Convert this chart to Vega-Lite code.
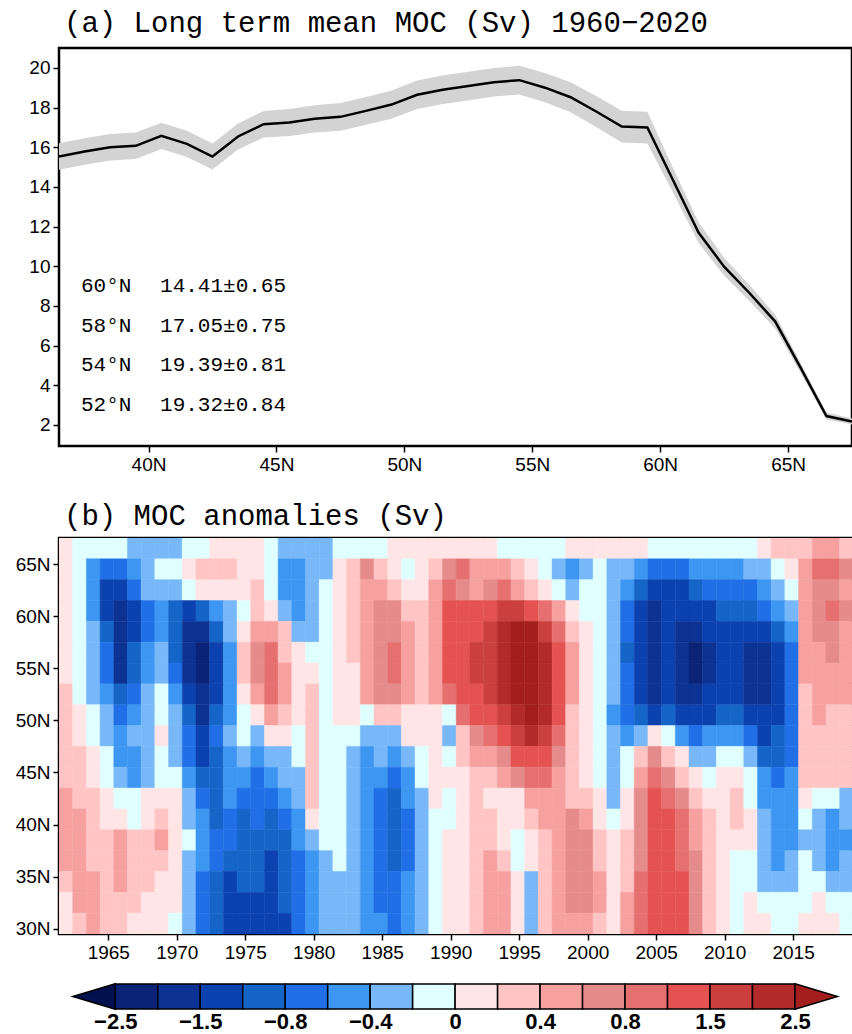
{
"$schema":"https://vega.github.io/schema/vega-lite/v6.json",
"background":"white",
"padding":{"left":13,"top":7,"right":0,"bottom":0},
"config":{
 "view":{"stroke":"black","strokeWidth":2.5},
 "axis":{"grid":false,"domain":false,"tickColor":"black","tickWidth":1.5,"tickSize":6,"labelColor":"black","labelFont":"Liberation Sans Narrow, Liberation Sans","labelFontSize":19,"labelPadding":3},
 "title":{"font":"Liberation Mono","fontSize":29,"fontWeight":"normal","color":"black","anchor":"start","frame":"group","dx":5,"offset":10},
 "concat":{"spacing":16}
},
"datasets":{
"moc":[
{"lat":36.5,"m":15.53,"lo":14.86,"hi":16.2},{"lat":37.5,"m":15.78,"lo":15.11,"hi":16.45},{"lat":38.5,"m":16.0,"lo":15.33,"hi":16.67},{"lat":39.5,"m":16.07,"lo":15.4,"hi":16.74},{"lat":40.5,"m":16.57,"lo":15.91,"hi":17.23},{"lat":41.5,"m":16.17,"lo":15.51,"hi":16.83},{"lat":42.5,"m":15.53,"lo":14.87,"hi":16.19},{"lat":43.5,"m":16.54,"lo":15.88,"hi":17.2},{"lat":44.5,"m":17.16,"lo":16.49,"hi":17.83},{"lat":45.5,"m":17.25,"lo":16.57,"hi":17.93},{"lat":46.5,"m":17.43,"lo":16.74,"hi":18.12},{"lat":47.5,"m":17.53,"lo":16.83,"hi":18.23},{"lat":48.5,"m":17.83,"lo":17.13,"hi":18.53},{"lat":49.5,"m":18.15,"lo":17.44,"hi":18.86},{"lat":50.5,"m":18.64,"lo":17.92,"hi":19.36},{"lat":51.5,"m":18.9,"lo":18.18,"hi":19.62},{"lat":52.5,"m":19.08,"lo":18.36,"hi":19.8},{"lat":53.5,"m":19.27,"lo":18.55,"hi":19.99},{"lat":54.5,"m":19.38,"lo":18.66,"hi":20.1},{"lat":55.5,"m":19.0,"lo":18.26,"hi":19.74},{"lat":56.5,"m":18.52,"lo":17.76,"hi":19.28},{"lat":57.5,"m":17.8,"lo":17.02,"hi":18.58},{"lat":58.5,"m":17.04,"lo":16.24,"hi":17.84},{"lat":59.5,"m":16.99,"lo":16.19,"hi":17.79},{"lat":60.5,"m":14.35,"lo":13.73,"hi":14.97},{"lat":61.5,"m":11.7,"lo":11.18,"hi":12.22},{"lat":62.5,"m":9.98,"lo":9.53,"hi":10.43},{"lat":63.5,"m":8.64,"lo":8.24,"hi":9.04},{"lat":64.5,"m":7.21,"lo":6.86,"hi":7.56},{"lat":65.5,"m":4.86,"lo":4.61,"hi":5.11},{"lat":66.5,"m":2.45,"lo":2.27,"hi":2.63},{"lat":67.5,"m":2.17,"lo":2.02,"hi":2.32}
],
"ann":[
{"x":37.36,"y":9,"s":"60°N"},{"x":40.45,"y":9,"s":"14.41±0.65"},
{"x":37.36,"y":7,"s":"58°N"},{"x":40.45,"y":7,"s":"17.05±0.75"},
{"x":37.36,"y":5,"s":"54°N"},{"x":40.45,"y":5,"s":"19.39±0.81"},
{"x":37.36,"y":3,"s":"52°N"},{"x":40.45,"y":3,"s":"19.32±0.84"}
],
"cbar":[
{"k":0,"v":-2.25},{"k":1,"v":-1.75},{"k":2,"v":-1.35},{"k":3,"v":-1},{"k":4,"v":-0.7},{"k":5,"v":-0.5},{"k":6,"v":-0.3},{"k":7,"v":-0.1},{"k":8,"v":0.1},{"k":9,"v":0.3},{"k":10,"v":0.5},{"k":11,"v":0.7},{"k":12,"v":1},{"k":13,"v":1.35},{"k":14,"v":1.75},{"k":15,"v":2.25}
],
"tri":[{"k":-0.5,"v":-2.75,"side":"L"},{"k":16.5,"v":2.75,"side":"R"}],
"anom":[
{"t":1962,"la":66.5,"v":0.1},{"t":1963,"la":66.5,"v":-0.1},{"t":1964,"la":66.5,"v":-0.1},{"t":1965,"la":66.5,"v":-0.1},{"t":1966,"la":66.5,"v":-0.1},{"t":1967,"la":66.5,"v":-0.3},{"t":1968,"la":66.5,"v":-0.3},{"t":1969,"la":66.5,"v":-0.3},{"t":1970,"la":66.5,"v":-0.3},{"t":1971,"la":66.5,"v":-0.1},{"t":1972,"la":66.5,"v":-0.1},{"t":1973,"la":66.5,"v":0.1},{"t":1974,"la":66.5,"v":0.1},{"t":1975,"la":66.5,"v":0.1},{"t":1976,"la":66.5,"v":0.1},{"t":1977,"la":66.5,"v":-0.1},{"t":1978,"la":66.5,"v":-0.3},{"t":1979,"la":66.5,"v":-0.3},{"t":1980,"la":66.5,"v":-0.3},{"t":1981,"la":66.5,"v":-0.3},{"t":1982,"la":66.5,"v":-0.1},{"t":1983,"la":66.5,"v":-0.1},{"t":1984,"la":66.5,"v":-0.1},{"t":1985,"la":66.5,"v":-0.1},{"t":1986,"la":66.5,"v":0.1},{"t":1987,"la":66.5,"v":0.1},{"t":1988,"la":66.5,"v":0.1},{"t":1989,"la":66.5,"v":0.1},{"t":1990,"la":66.5,"v":0.1},{"t":1991,"la":66.5,"v":0.1},{"t":1992,"la":66.5,"v":0.1},{"t":1993,"la":66.5,"v":0.1},{"t":1994,"la":66.5,"v":-0.1},{"t":1995,"la":66.5,"v":-0.1},{"t":1996,"la":66.5,"v":-0.1},{"t":1997,"la":66.5,"v":-0.1},{"t":1998,"la":66.5,"v":-0.1},{"t":1999,"la":66.5,"v":0.1},{"t":2000,"la":66.5,"v":0.1},{"t":2001,"la":66.5,"v":0.1},{"t":2002,"la":66.5,"v":0.1},{"t":2003,"la":66.5,"v":0.1},{"t":2004,"la":66.5,"v":0.1},{"t":2005,"la":66.5,"v":-0.1},{"t":2006,"la":66.5,"v":-0.1},{"t":2007,"la":66.5,"v":-0.1},{"t":2008,"la":66.5,"v":-0.1},{"t":2009,"la":66.5,"v":-0.1},{"t":2010,"la":66.5,"v":-0.1},{"t":2011,"la":66.5,"v":-0.1},{"t":2012,"la":66.5,"v":-0.1},{"t":2013,"la":66.5,"v":0.1},{"t":2014,"la":66.5,"v":0.3},{"t":2015,"la":66.5,"v":0.3},{"t":2016,"la":66.5,"v":0.3},{"t":2017,"la":66.5,"v":0.5},{"t":2018,"la":66.5,"v":0.5},{"t":2019,"la":66.5,"v":0.3},
{"t":1962,"la":64.5,"v":0.1},{"t":1963,"la":64.5,"v":-0.1},{"t":1964,"la":64.5,"v":-0.5},{"t":1965,"la":64.5,"v":-0.7},{"t":1966,"la":64.5,"v":-0.7},{"t":1967,"la":64.5,"v":-0.5},{"t":1968,"la":64.5,"v":-0.3},{"t":1969,"la":64.5,"v":-0.1},{"t":1970,"la":64.5,"v":-0.1},{"t":1971,"la":64.5,"v":0.1},{"t":1972,"la":64.5,"v":0.3},{"t":1973,"la":64.5,"v":0.3},{"t":1974,"la":64.5,"v":0.3},{"t":1975,"la":64.5,"v":0.1},{"t":1976,"la":64.5,"v":0.1},{"t":1977,"la":64.5,"v":-0.1},{"t":1978,"la":64.5,"v":-0.5},{"t":1979,"la":64.5,"v":-0.5},{"t":1980,"la":64.5,"v":-0.3},{"t":1981,"la":64.5,"v":-0.3},{"t":1982,"la":64.5,"v":0.1},{"t":1983,"la":64.5,"v":0.3},{"t":1984,"la":64.5,"v":0.7},{"t":1985,"la":64.5,"v":0.3},{"t":1986,"la":64.5,"v":0.1},{"t":1987,"la":64.5,"v":-0.1},{"t":1988,"la":64.5,"v":0.1},{"t":1989,"la":64.5,"v":0.3},{"t":1990,"la":64.5,"v":0.7},{"t":1991,"la":64.5,"v":1},{"t":1992,"la":64.5,"v":0.5},{"t":1993,"la":64.5,"v":0.5},{"t":1994,"la":64.5,"v":0.5},{"t":1995,"la":64.5,"v":0.3},{"t":1996,"la":64.5,"v":0.1},{"t":1997,"la":64.5,"v":-0.1},{"t":1998,"la":64.5,"v":-0.3},{"t":1999,"la":64.5,"v":-0.5},{"t":2000,"la":64.5,"v":-0.3},{"t":2001,"la":64.5,"v":-0.1},{"t":2002,"la":64.5,"v":-0.3},{"t":2003,"la":64.5,"v":-0.3},{"t":2004,"la":64.5,"v":-0.5},{"t":2005,"la":64.5,"v":-0.7},{"t":2006,"la":64.5,"v":-0.7},{"t":2007,"la":64.5,"v":-0.7},{"t":2008,"la":64.5,"v":-0.5},{"t":2009,"la":64.5,"v":-0.5},{"t":2010,"la":64.5,"v":-0.5},{"t":2011,"la":64.5,"v":-0.5},{"t":2012,"la":64.5,"v":-0.3},{"t":2013,"la":64.5,"v":-0.3},{"t":2014,"la":64.5,"v":-0.1},{"t":2015,"la":64.5,"v":0.1},{"t":2016,"la":64.5,"v":0.5},{"t":2017,"la":64.5,"v":1},{"t":2018,"la":64.5,"v":1},{"t":2019,"la":64.5,"v":0.7},
{"t":1962,"la":62.5,"v":0.1},{"t":1963,"la":62.5,"v":-0.1},{"t":1964,"la":62.5,"v":-0.5},{"t":1965,"la":62.5,"v":-1.35},{"t":1966,"la":62.5,"v":-1.35},{"t":1967,"la":62.5,"v":-0.7},{"t":1968,"la":62.5,"v":-0.3},{"t":1969,"la":62.5,"v":-0.3},{"t":1970,"la":62.5,"v":-0.3},{"t":1971,"la":62.5,"v":-0.1},{"t":1972,"la":62.5,"v":0.1},{"t":1973,"la":62.5,"v":0.1},{"t":1974,"la":62.5,"v":0.1},{"t":1975,"la":62.5,"v":0.1},{"t":1976,"la":62.5,"v":0.3},{"t":1977,"la":62.5,"v":-0.1},{"t":1978,"la":62.5,"v":-0.5},{"t":1979,"la":62.5,"v":-0.5},{"t":1980,"la":62.5,"v":-0.3},{"t":1981,"la":62.5,"v":-0.1},{"t":1982,"la":62.5,"v":0.1},{"t":1983,"la":62.5,"v":0.3},{"t":1984,"la":62.5,"v":0.5},{"t":1985,"la":62.5,"v":0.5},{"t":1986,"la":62.5,"v":0.3},{"t":1987,"la":62.5,"v":0.1},{"t":1988,"la":62.5,"v":0.1},{"t":1989,"la":62.5,"v":0.5},{"t":1990,"la":62.5,"v":1},{"t":1991,"la":62.5,"v":0.7},{"t":1992,"la":62.5,"v":0.5},{"t":1993,"la":62.5,"v":0.7},{"t":1994,"la":62.5,"v":1},{"t":1995,"la":62.5,"v":0.5},{"t":1996,"la":62.5,"v":0.3},{"t":1997,"la":62.5,"v":0.1},{"t":1998,"la":62.5,"v":-0.1},{"t":1999,"la":62.5,"v":-0.3},{"t":2000,"la":62.5,"v":-0.1},{"t":2001,"la":62.5,"v":-0.1},{"t":2002,"la":62.5,"v":-0.3},{"t":2003,"la":62.5,"v":-0.5},{"t":2004,"la":62.5,"v":-1},{"t":2005,"la":62.5,"v":-1.35},{"t":2006,"la":62.5,"v":-1.35},{"t":2007,"la":62.5,"v":-1.35},{"t":2008,"la":62.5,"v":-1},{"t":2009,"la":62.5,"v":-0.7},{"t":2010,"la":62.5,"v":-0.7},{"t":2011,"la":62.5,"v":-0.7},{"t":2012,"la":62.5,"v":-0.7},{"t":2013,"la":62.5,"v":-0.5},{"t":2014,"la":62.5,"v":-0.3},{"t":2015,"la":62.5,"v":-0.1},{"t":2016,"la":62.5,"v":0.5},{"t":2017,"la":62.5,"v":0.7},{"t":2018,"la":62.5,"v":0.7},{"t":2019,"la":62.5,"v":0.5},
{"t":1962,"la":60.5,"v":0.1},{"t":1963,"la":60.5,"v":-0.1},{"t":1964,"la":60.5,"v":-0.5},{"t":1965,"la":60.5,"v":-1.35},{"t":1966,"la":60.5,"v":-1.75},{"t":1967,"la":60.5,"v":-1.35},{"t":1968,"la":60.5,"v":-0.7},{"t":1969,"la":60.5,"v":-0.5},{"t":1970,"la":60.5,"v":-1},{"t":1971,"la":60.5,"v":-1.35},{"t":1972,"la":60.5,"v":-1},{"t":1973,"la":60.5,"v":-0.5},{"t":1974,"la":60.5,"v":-0.3},{"t":1975,"la":60.5,"v":-0.1},{"t":1976,"la":60.5,"v":0.3},{"t":1977,"la":60.5,"v":0.1},{"t":1978,"la":60.5,"v":-0.3},{"t":1979,"la":60.5,"v":-0.5},{"t":1980,"la":60.5,"v":-0.3},{"t":1981,"la":60.5,"v":-0.1},{"t":1982,"la":60.5,"v":0.1},{"t":1983,"la":60.5,"v":0.3},{"t":1984,"la":60.5,"v":0.5},{"t":1985,"la":60.5,"v":0.7},{"t":1986,"la":60.5,"v":0.7},{"t":1987,"la":60.5,"v":0.3},{"t":1988,"la":60.5,"v":0.3},{"t":1989,"la":60.5,"v":0.5},{"t":1990,"la":60.5,"v":1.35},{"t":1991,"la":60.5,"v":1.35},{"t":1992,"la":60.5,"v":1.35},{"t":1993,"la":60.5,"v":1.35},{"t":1994,"la":60.5,"v":1.75},{"t":1995,"la":60.5,"v":1.75},{"t":1996,"la":60.5,"v":1.35},{"t":1997,"la":60.5,"v":1},{"t":1998,"la":60.5,"v":0.5},{"t":1999,"la":60.5,"v":0.1},{"t":2000,"la":60.5,"v":-0.1},{"t":2001,"la":60.5,"v":-0.1},{"t":2002,"la":60.5,"v":-0.3},{"t":2003,"la":60.5,"v":-0.7},{"t":2004,"la":60.5,"v":-1.35},{"t":2005,"la":60.5,"v":-1.75},{"t":2006,"la":60.5,"v":-1.35},{"t":2007,"la":60.5,"v":-1.35},{"t":2008,"la":60.5,"v":-1.35},{"t":2009,"la":60.5,"v":-1.35},{"t":2010,"la":60.5,"v":-1},{"t":2011,"la":60.5,"v":-1},{"t":2012,"la":60.5,"v":-1},{"t":2013,"la":60.5,"v":-0.7},{"t":2014,"la":60.5,"v":-0.5},{"t":2015,"la":60.5,"v":-0.3},{"t":2016,"la":60.5,"v":0.5},{"t":2017,"la":60.5,"v":0.7},{"t":2018,"la":60.5,"v":1},{"t":2019,"la":60.5,"v":0.7},
{"t":1962,"la":58.5,"v":0.1},{"t":1963,"la":58.5,"v":-0.1},{"t":1964,"la":58.5,"v":-0.3},{"t":1965,"la":58.5,"v":-1},{"t":1966,"la":58.5,"v":-1.75},{"t":1967,"la":58.5,"v":-1.35},{"t":1968,"la":58.5,"v":-0.7},{"t":1969,"la":58.5,"v":-0.5},{"t":1970,"la":58.5,"v":-1},{"t":1971,"la":58.5,"v":-1.75},{"t":1972,"la":58.5,"v":-1.75},{"t":1973,"la":58.5,"v":-1},{"t":1974,"la":58.5,"v":-0.3},{"t":1975,"la":58.5,"v":0.1},{"t":1976,"la":58.5,"v":0.5},{"t":1977,"la":58.5,"v":0.5},{"t":1978,"la":58.5,"v":0.3},{"t":1979,"la":58.5,"v":-0.3},{"t":1980,"la":58.5,"v":-0.3},{"t":1981,"la":58.5,"v":-0.1},{"t":1982,"la":58.5,"v":0.1},{"t":1983,"la":58.5,"v":0.3},{"t":1984,"la":58.5,"v":0.5},{"t":1985,"la":58.5,"v":0.7},{"t":1986,"la":58.5,"v":0.7},{"t":1987,"la":58.5,"v":0.5},{"t":1988,"la":58.5,"v":0.3},{"t":1989,"la":58.5,"v":0.5},{"t":1990,"la":58.5,"v":1.35},{"t":1991,"la":58.5,"v":1.35},{"t":1992,"la":58.5,"v":1.35},{"t":1993,"la":58.5,"v":1.75},{"t":1994,"la":58.5,"v":2.25},{"t":1995,"la":58.5,"v":2.75},{"t":1996,"la":58.5,"v":2.75},{"t":1997,"la":58.5,"v":1.75},{"t":1998,"la":58.5,"v":1},{"t":1999,"la":58.5,"v":0.3},{"t":2000,"la":58.5,"v":0.1},{"t":2001,"la":58.5,"v":-0.1},{"t":2002,"la":58.5,"v":-0.3},{"t":2003,"la":58.5,"v":-0.7},{"t":2004,"la":58.5,"v":-1.35},{"t":2005,"la":58.5,"v":-1.75},{"t":2006,"la":58.5,"v":-1.35},{"t":2007,"la":58.5,"v":-1.75},{"t":2008,"la":58.5,"v":-1.75},{"t":2009,"la":58.5,"v":-1.35},{"t":2010,"la":58.5,"v":-1.35},{"t":2011,"la":58.5,"v":-1.35},{"t":2012,"la":58.5,"v":-1.35},{"t":2013,"la":58.5,"v":-1.35},{"t":2014,"la":58.5,"v":-1},{"t":2015,"la":58.5,"v":-0.5},{"t":2016,"la":58.5,"v":0.5},{"t":2017,"la":58.5,"v":0.7},{"t":2018,"la":58.5,"v":0.7},{"t":2019,"la":58.5,"v":0.5},
{"t":1962,"la":56.5,"v":0.1},{"t":1963,"la":56.5,"v":-0.1},{"t":1964,"la":56.5,"v":-0.3},{"t":1965,"la":56.5,"v":-0.7},{"t":1966,"la":56.5,"v":-1.75},{"t":1967,"la":56.5,"v":-1},{"t":1968,"la":56.5,"v":-0.5},{"t":1969,"la":56.5,"v":-0.3},{"t":1970,"la":56.5,"v":-1},{"t":1971,"la":56.5,"v":-1.75},{"t":1972,"la":56.5,"v":-2.25},{"t":1973,"la":56.5,"v":-1.35},{"t":1974,"la":56.5,"v":-0.5},{"t":1975,"la":56.5,"v":0.3},{"t":1976,"la":56.5,"v":0.7},{"t":1977,"la":56.5,"v":1},{"t":1978,"la":56.5,"v":0.3},{"t":1979,"la":56.5,"v":0.1},{"t":1980,"la":56.5,"v":-0.1},{"t":1981,"la":56.5,"v":-0.1},{"t":1982,"la":56.5,"v":0.1},{"t":1983,"la":56.5,"v":0.3},{"t":1984,"la":56.5,"v":0.5},{"t":1985,"la":56.5,"v":0.7},{"t":1986,"la":56.5,"v":1},{"t":1987,"la":56.5,"v":0.5},{"t":1988,"la":56.5,"v":0.3},{"t":1989,"la":56.5,"v":0.5},{"t":1990,"la":56.5,"v":1.35},{"t":1991,"la":56.5,"v":1.35},{"t":1992,"la":56.5,"v":1.75},{"t":1993,"la":56.5,"v":1.75},{"t":1994,"la":56.5,"v":2.25},{"t":1995,"la":56.5,"v":2.75},{"t":1996,"la":56.5,"v":2.75},{"t":1997,"la":56.5,"v":2.25},{"t":1998,"la":56.5,"v":1.35},{"t":1999,"la":56.5,"v":0.5},{"t":2000,"la":56.5,"v":0.1},{"t":2001,"la":56.5,"v":-0.1},{"t":2002,"la":56.5,"v":-0.3},{"t":2003,"la":56.5,"v":-1},{"t":2004,"la":56.5,"v":-1.35},{"t":2005,"la":56.5,"v":-1.75},{"t":2006,"la":56.5,"v":-1.35},{"t":2007,"la":56.5,"v":-1.75},{"t":2008,"la":56.5,"v":-2.25},{"t":2009,"la":56.5,"v":-1.75},{"t":2010,"la":56.5,"v":-1.35},{"t":2011,"la":56.5,"v":-1.35},{"t":2012,"la":56.5,"v":-1.75},{"t":2013,"la":56.5,"v":-1.75},{"t":2014,"la":56.5,"v":-1.35},{"t":2015,"la":56.5,"v":-0.7},{"t":2016,"la":56.5,"v":0.5},{"t":2017,"la":56.5,"v":0.5},{"t":2018,"la":56.5,"v":0.7},{"t":2019,"la":56.5,"v":0.5},
{"t":1962,"la":54.5,"v":0.1},{"t":1963,"la":54.5,"v":-0.1},{"t":1964,"la":54.5,"v":-0.3},{"t":1965,"la":54.5,"v":-0.7},{"t":1966,"la":54.5,"v":-1.75},{"t":1967,"la":54.5,"v":-1},{"t":1968,"la":54.5,"v":-0.5},{"t":1969,"la":54.5,"v":-0.3},{"t":1970,"la":54.5,"v":-0.7},{"t":1971,"la":54.5,"v":-1.75},{"t":1972,"la":54.5,"v":-2.25},{"t":1973,"la":54.5,"v":-1.35},{"t":1974,"la":54.5,"v":-0.5},{"t":1975,"la":54.5,"v":0.3},{"t":1976,"la":54.5,"v":0.7},{"t":1977,"la":54.5,"v":1},{"t":1978,"la":54.5,"v":0.5},{"t":1979,"la":54.5,"v":0.1},{"t":1980,"la":54.5,"v":0.1},{"t":1981,"la":54.5,"v":-0.1},{"t":1982,"la":54.5,"v":0.1},{"t":1983,"la":54.5,"v":0.1},{"t":1984,"la":54.5,"v":0.5},{"t":1985,"la":54.5,"v":0.7},{"t":1986,"la":54.5,"v":1},{"t":1987,"la":54.5,"v":0.5},{"t":1988,"la":54.5,"v":0.3},{"t":1989,"la":54.5,"v":0.5},{"t":1990,"la":54.5,"v":1.35},{"t":1991,"la":54.5,"v":1.35},{"t":1992,"la":54.5,"v":1.75},{"t":1993,"la":54.5,"v":1.75},{"t":1994,"la":54.5,"v":2.25},{"t":1995,"la":54.5,"v":2.75},{"t":1996,"la":54.5,"v":2.75},{"t":1997,"la":54.5,"v":2.25},{"t":1998,"la":54.5,"v":1.35},{"t":1999,"la":54.5,"v":0.5},{"t":2000,"la":54.5,"v":0.1},{"t":2001,"la":54.5,"v":-0.1},{"t":2002,"la":54.5,"v":-0.3},{"t":2003,"la":54.5,"v":-0.7},{"t":2004,"la":54.5,"v":-1.35},{"t":2005,"la":54.5,"v":-1.75},{"t":2006,"la":54.5,"v":-1.35},{"t":2007,"la":54.5,"v":-1.75},{"t":2008,"la":54.5,"v":-2.25},{"t":2009,"la":54.5,"v":-1.75},{"t":2010,"la":54.5,"v":-1.35},{"t":2011,"la":54.5,"v":-1.35},{"t":2012,"la":54.5,"v":-1.75},{"t":2013,"la":54.5,"v":-1.75},{"t":2014,"la":54.5,"v":-1.35},{"t":2015,"la":54.5,"v":-0.7},{"t":2016,"la":54.5,"v":0.5},{"t":2017,"la":54.5,"v":0.5},{"t":2018,"la":54.5,"v":0.5},{"t":2019,"la":54.5,"v":0.5},
{"t":1962,"la":52.5,"v":0.3},{"t":1963,"la":52.5,"v":-0.1},{"t":1964,"la":52.5,"v":-0.3},{"t":1965,"la":52.5,"v":-0.5},{"t":1966,"la":52.5,"v":-1},{"t":1967,"la":52.5,"v":-0.7},{"t":1968,"la":52.5,"v":-0.3},{"t":1969,"la":52.5,"v":-0.1},{"t":1970,"la":52.5,"v":-0.5},{"t":1971,"la":52.5,"v":-1.35},{"t":1972,"la":52.5,"v":-1.75},{"t":1973,"la":52.5,"v":-1.35},{"t":1974,"la":52.5,"v":-0.5},{"t":1975,"la":52.5,"v":0.1},{"t":1976,"la":52.5,"v":0.5},{"t":1977,"la":52.5,"v":1},{"t":1978,"la":52.5,"v":0.5},{"t":1979,"la":52.5,"v":0.1},{"t":1980,"la":52.5,"v":0.3},{"t":1981,"la":52.5,"v":-0.1},{"t":1982,"la":52.5,"v":0.1},{"t":1983,"la":52.5,"v":0.1},{"t":1984,"la":52.5,"v":0.5},{"t":1985,"la":52.5,"v":0.7},{"t":1986,"la":52.5,"v":0.7},{"t":1987,"la":52.5,"v":0.5},{"t":1988,"la":52.5,"v":0.3},{"t":1989,"la":52.5,"v":0.5},{"t":1990,"la":52.5,"v":1},{"t":1991,"la":52.5,"v":1.35},{"t":1992,"la":52.5,"v":1.35},{"t":1993,"la":52.5,"v":1.75},{"t":1994,"la":52.5,"v":2.25},{"t":1995,"la":52.5,"v":2.75},{"t":1996,"la":52.5,"v":2.75},{"t":1997,"la":52.5,"v":2.25},{"t":1998,"la":52.5,"v":1.35},{"t":1999,"la":52.5,"v":0.5},{"t":2000,"la":52.5,"v":0.1},{"t":2001,"la":52.5,"v":-0.1},{"t":2002,"la":52.5,"v":-0.3},{"t":2003,"la":52.5,"v":-0.7},{"t":2004,"la":52.5,"v":-1.35},{"t":2005,"la":52.5,"v":-1.75},{"t":2006,"la":52.5,"v":-1.35},{"t":2007,"la":52.5,"v":-1.75},{"t":2008,"la":52.5,"v":-1.75},{"t":2009,"la":52.5,"v":-1.35},{"t":2010,"la":52.5,"v":-1.35},{"t":2011,"la":52.5,"v":-1.35},{"t":2012,"la":52.5,"v":-1.75},{"t":2013,"la":52.5,"v":-1.75},{"t":2014,"la":52.5,"v":-1.35},{"t":2015,"la":52.5,"v":-0.7},{"t":2016,"la":52.5,"v":0.3},{"t":2017,"la":52.5,"v":0.5},{"t":2018,"la":52.5,"v":0.5},{"t":2019,"la":52.5,"v":0.5},
{"t":1962,"la":50.5,"v":0.3},{"t":1963,"la":50.5,"v":0.1},{"t":1964,"la":50.5,"v":-0.1},{"t":1965,"la":50.5,"v":-0.3},{"t":1966,"la":50.5,"v":-0.7},{"t":1967,"la":50.5,"v":-0.5},{"t":1968,"la":50.5,"v":-0.3},{"t":1969,"la":50.5,"v":-0.1},{"t":1970,"la":50.5,"v":-0.3},{"t":1971,"la":50.5,"v":-1},{"t":1972,"la":50.5,"v":-1.75},{"t":1973,"la":50.5,"v":-1},{"t":1974,"la":50.5,"v":-0.5},{"t":1975,"la":50.5,"v":-0.1},{"t":1976,"la":50.5,"v":0.1},{"t":1977,"la":50.5,"v":0.5},{"t":1978,"la":50.5,"v":0.3},{"t":1979,"la":50.5,"v":0.1},{"t":1980,"la":50.5,"v":0.3},{"t":1981,"la":50.5,"v":-0.1},{"t":1982,"la":50.5,"v":0.1},{"t":1983,"la":50.5,"v":0.1},{"t":1984,"la":50.5,"v":-0.1},{"t":1985,"la":50.5,"v":0.3},{"t":1986,"la":50.5,"v":0.3},{"t":1987,"la":50.5,"v":0.1},{"t":1988,"la":50.5,"v":0.1},{"t":1989,"la":50.5,"v":0.1},{"t":1990,"la":50.5,"v":-0.1},{"t":1991,"la":50.5,"v":1},{"t":1992,"la":50.5,"v":1.35},{"t":1993,"la":50.5,"v":1.35},{"t":1994,"la":50.5,"v":1.75},{"t":1995,"la":50.5,"v":2.25},{"t":1996,"la":50.5,"v":2.75},{"t":1997,"la":50.5,"v":2.25},{"t":1998,"la":50.5,"v":1.35},{"t":1999,"la":50.5,"v":0.3},{"t":2000,"la":50.5,"v":0.1},{"t":2001,"la":50.5,"v":-0.1},{"t":2002,"la":50.5,"v":-0.5},{"t":2003,"la":50.5,"v":-0.7},{"t":2004,"la":50.5,"v":-1},{"t":2005,"la":50.5,"v":-1.35},{"t":2006,"la":50.5,"v":-1},{"t":2007,"la":50.5,"v":-1.35},{"t":2008,"la":50.5,"v":-1.35},{"t":2009,"la":50.5,"v":-1.35},{"t":2010,"la":50.5,"v":-1},{"t":2011,"la":50.5,"v":-1},{"t":2012,"la":50.5,"v":-1.35},{"t":2013,"la":50.5,"v":-1.35},{"t":2014,"la":50.5,"v":-1.35},{"t":2015,"la":50.5,"v":-0.7},{"t":2016,"la":50.5,"v":0.3},{"t":2017,"la":50.5,"v":0.5},{"t":2018,"la":50.5,"v":0.3},{"t":2019,"la":50.5,"v":0.3},
{"t":1962,"la":48.5,"v":0.3},{"t":1963,"la":48.5,"v":0.1},{"t":1964,"la":48.5,"v":-0.1},{"t":1965,"la":48.5,"v":-0.3},{"t":1966,"la":48.5,"v":-0.5},{"t":1967,"la":48.5,"v":-0.3},{"t":1968,"la":48.5,"v":-0.3},{"t":1969,"la":48.5,"v":0.1},{"t":1970,"la":48.5,"v":-0.3},{"t":1971,"la":48.5,"v":-0.7},{"t":1972,"la":48.5,"v":-1.35},{"t":1973,"la":48.5,"v":-0.7},{"t":1974,"la":48.5,"v":-0.3},{"t":1975,"la":48.5,"v":-0.1},{"t":1976,"la":48.5,"v":-0.3},{"t":1977,"la":48.5,"v":0.1},{"t":1978,"la":48.5,"v":0.1},{"t":1979,"la":48.5,"v":-0.1},{"t":1980,"la":48.5,"v":0.3},{"t":1981,"la":48.5,"v":-0.1},{"t":1982,"la":48.5,"v":-0.1},{"t":1983,"la":48.5,"v":-0.1},{"t":1984,"la":48.5,"v":-0.3},{"t":1985,"la":48.5,"v":-0.3},{"t":1986,"la":48.5,"v":-0.3},{"t":1987,"la":48.5,"v":0.1},{"t":1988,"la":48.5,"v":0.1},{"t":1989,"la":48.5,"v":0.1},{"t":1990,"la":48.5,"v":-0.3},{"t":1991,"la":48.5,"v":0.3},{"t":1992,"la":48.5,"v":0.7},{"t":1993,"la":48.5,"v":1},{"t":1994,"la":48.5,"v":1.35},{"t":1995,"la":48.5,"v":1.75},{"t":1996,"la":48.5,"v":2.25},{"t":1997,"la":48.5,"v":1.75},{"t":1998,"la":48.5,"v":1},{"t":1999,"la":48.5,"v":0.3},{"t":2000,"la":48.5,"v":0.1},{"t":2001,"la":48.5,"v":-0.1},{"t":2002,"la":48.5,"v":-0.3},{"t":2003,"la":48.5,"v":-0.5},{"t":2004,"la":48.5,"v":-0.3},{"t":2005,"la":48.5,"v":0.1},{"t":2006,"la":48.5,"v":-0.1},{"t":2007,"la":48.5,"v":-0.5},{"t":2008,"la":48.5,"v":-0.7},{"t":2009,"la":48.5,"v":-0.5},{"t":2010,"la":48.5,"v":-0.5},{"t":2011,"la":48.5,"v":-0.5},{"t":2012,"la":48.5,"v":-0.7},{"t":2013,"la":48.5,"v":-1.35},{"t":2014,"la":48.5,"v":-1},{"t":2015,"la":48.5,"v":-0.7},{"t":2016,"la":48.5,"v":0.3},{"t":2017,"la":48.5,"v":0.3},{"t":2018,"la":48.5,"v":0.3},{"t":2019,"la":48.5,"v":0.3},
{"t":1962,"la":46.5,"v":0.3},{"t":1963,"la":46.5,"v":0.3},{"t":1964,"la":46.5,"v":0.1},{"t":1965,"la":46.5,"v":-0.1},{"t":1966,"la":46.5,"v":-0.5},{"t":1967,"la":46.5,"v":-0.5},{"t":1968,"la":46.5,"v":-0.3},{"t":1969,"la":46.5,"v":-0.1},{"t":1970,"la":46.5,"v":-0.3},{"t":1971,"la":46.5,"v":-0.7},{"t":1972,"la":46.5,"v":-1.35},{"t":1973,"la":46.5,"v":-1},{"t":1974,"la":46.5,"v":-0.5},{"t":1975,"la":46.5,"v":-0.3},{"t":1976,"la":46.5,"v":-0.5},{"t":1977,"la":46.5,"v":-0.3},{"t":1978,"la":46.5,"v":-0.3},{"t":1979,"la":46.5,"v":-0.1},{"t":1980,"la":46.5,"v":0.3},{"t":1981,"la":46.5,"v":-0.1},{"t":1982,"la":46.5,"v":-0.1},{"t":1983,"la":46.5,"v":-0.3},{"t":1984,"la":46.5,"v":-0.5},{"t":1985,"la":46.5,"v":-0.3},{"t":1986,"la":46.5,"v":-0.5},{"t":1987,"la":46.5,"v":-0.3},{"t":1988,"la":46.5,"v":-0.1},{"t":1989,"la":46.5,"v":0.1},{"t":1990,"la":46.5,"v":-0.1},{"t":1991,"la":46.5,"v":0.3},{"t":1992,"la":46.5,"v":0.5},{"t":1993,"la":46.5,"v":0.5},{"t":1994,"la":46.5,"v":0.7},{"t":1995,"la":46.5,"v":1.35},{"t":1996,"la":46.5,"v":1.35},{"t":1997,"la":46.5,"v":1.35},{"t":1998,"la":46.5,"v":0.7},{"t":1999,"la":46.5,"v":0.3},{"t":2000,"la":46.5,"v":0.1},{"t":2001,"la":46.5,"v":-0.1},{"t":2002,"la":46.5,"v":-0.3},{"t":2003,"la":46.5,"v":-0.1},{"t":2004,"la":46.5,"v":0.3},{"t":2005,"la":46.5,"v":0.7},{"t":2006,"la":46.5,"v":0.3},{"t":2007,"la":46.5,"v":0.1},{"t":2008,"la":46.5,"v":-0.3},{"t":2009,"la":46.5,"v":-0.3},{"t":2010,"la":46.5,"v":-0.1},{"t":2011,"la":46.5,"v":-0.1},{"t":2012,"la":46.5,"v":-0.3},{"t":2013,"la":46.5,"v":-1},{"t":2014,"la":46.5,"v":-1},{"t":2015,"la":46.5,"v":-0.7},{"t":2016,"la":46.5,"v":0.3},{"t":2017,"la":46.5,"v":0.3},{"t":2018,"la":46.5,"v":0.3},{"t":2019,"la":46.5,"v":0.3},
{"t":1962,"la":44.5,"v":0.3},{"t":1963,"la":44.5,"v":0.3},{"t":1964,"la":44.5,"v":0.1},{"t":1965,"la":44.5,"v":-0.1},{"t":1966,"la":44.5,"v":-0.3},{"t":1967,"la":44.5,"v":-0.5},{"t":1968,"la":44.5,"v":-0.3},{"t":1969,"la":44.5,"v":-0.1},{"t":1970,"la":44.5,"v":-0.1},{"t":1971,"la":44.5,"v":-0.5},{"t":1972,"la":44.5,"v":-1},{"t":1973,"la":44.5,"v":-1},{"t":1974,"la":44.5,"v":-0.5},{"t":1975,"la":44.5,"v":-0.5},{"t":1976,"la":44.5,"v":-0.7},{"t":1977,"la":44.5,"v":-0.5},{"t":1978,"la":44.5,"v":-0.3},{"t":1979,"la":44.5,"v":-0.3},{"t":1980,"la":44.5,"v":0.3},{"t":1981,"la":44.5,"v":-0.1},{"t":1982,"la":44.5,"v":-0.1},{"t":1983,"la":44.5,"v":-0.3},{"t":1984,"la":44.5,"v":-0.5},{"t":1985,"la":44.5,"v":-0.5},{"t":1986,"la":44.5,"v":-0.7},{"t":1987,"la":44.5,"v":-0.5},{"t":1988,"la":44.5,"v":-0.1},{"t":1989,"la":44.5,"v":0.1},{"t":1990,"la":44.5,"v":0.1},{"t":1991,"la":44.5,"v":0.1},{"t":1992,"la":44.5,"v":0.3},{"t":1993,"la":44.5,"v":0.3},{"t":1994,"la":44.5,"v":0.5},{"t":1995,"la":44.5,"v":0.7},{"t":1996,"la":44.5,"v":1},{"t":1997,"la":44.5,"v":1},{"t":1998,"la":44.5,"v":0.5},{"t":1999,"la":44.5,"v":0.3},{"t":2000,"la":44.5,"v":0.1},{"t":2001,"la":44.5,"v":-0.1},{"t":2002,"la":44.5,"v":-0.3},{"t":2003,"la":44.5,"v":-0.1},{"t":2004,"la":44.5,"v":0.5},{"t":2005,"la":44.5,"v":1},{"t":2006,"la":44.5,"v":0.7},{"t":2007,"la":44.5,"v":0.3},{"t":2008,"la":44.5,"v":0.1},{"t":2009,"la":44.5,"v":-0.1},{"t":2010,"la":44.5,"v":0.1},{"t":2011,"la":44.5,"v":0.1},{"t":2012,"la":44.5,"v":-0.1},{"t":2013,"la":44.5,"v":-0.5},{"t":2014,"la":44.5,"v":-0.7},{"t":2015,"la":44.5,"v":-0.5},{"t":2016,"la":44.5,"v":0.3},{"t":2017,"la":44.5,"v":0.3},{"t":2018,"la":44.5,"v":0.3},{"t":2019,"la":44.5,"v":0.3},
{"t":1962,"la":42.5,"v":0.5},{"t":1963,"la":42.5,"v":0.3},{"t":1964,"la":42.5,"v":0.3},{"t":1965,"la":42.5,"v":0.1},{"t":1966,"la":42.5,"v":-0.1},{"t":1967,"la":42.5,"v":-0.1},{"t":1968,"la":42.5,"v":0.1},{"t":1969,"la":42.5,"v":0.1},{"t":1970,"la":42.5,"v":0.1},{"t":1971,"la":42.5,"v":-0.3},{"t":1972,"la":42.5,"v":-0.7},{"t":1973,"la":42.5,"v":-1},{"t":1974,"la":42.5,"v":-0.5},{"t":1975,"la":42.5,"v":-0.7},{"t":1976,"la":42.5,"v":-0.7},{"t":1977,"la":42.5,"v":-0.7},{"t":1978,"la":42.5,"v":-0.5},{"t":1979,"la":42.5,"v":-0.3},{"t":1980,"la":42.5,"v":0.3},{"t":1981,"la":42.5,"v":-0.1},{"t":1982,"la":42.5,"v":-0.1},{"t":1983,"la":42.5,"v":-0.3},{"t":1984,"la":42.5,"v":-0.5},{"t":1985,"la":42.5,"v":-0.7},{"t":1986,"la":42.5,"v":-1},{"t":1987,"la":42.5,"v":-0.5},{"t":1988,"la":42.5,"v":-0.3},{"t":1989,"la":42.5,"v":0.1},{"t":1990,"la":42.5,"v":-0.1},{"t":1991,"la":42.5,"v":0.1},{"t":1992,"la":42.5,"v":0.3},{"t":1993,"la":42.5,"v":0.1},{"t":1994,"la":42.5,"v":0.1},{"t":1995,"la":42.5,"v":0.1},{"t":1996,"la":42.5,"v":0.5},{"t":1997,"la":42.5,"v":0.5},{"t":1998,"la":42.5,"v":0.5},{"t":1999,"la":42.5,"v":0.3},{"t":2000,"la":42.5,"v":0.3},{"t":2001,"la":42.5,"v":0.1},{"t":2002,"la":42.5,"v":-0.3},{"t":2003,"la":42.5,"v":0.1},{"t":2004,"la":42.5,"v":0.7},{"t":2005,"la":42.5,"v":1.35},{"t":2006,"la":42.5,"v":1},{"t":2007,"la":42.5,"v":0.7},{"t":2008,"la":42.5,"v":0.3},{"t":2009,"la":42.5,"v":0.1},{"t":2010,"la":42.5,"v":0.1},{"t":2011,"la":42.5,"v":0.3},{"t":2012,"la":42.5,"v":-0.1},{"t":2013,"la":42.5,"v":-0.5},{"t":2014,"la":42.5,"v":-0.5},{"t":2015,"la":42.5,"v":-0.5},{"t":2016,"la":42.5,"v":0.1},{"t":2017,"la":42.5,"v":-0.1},{"t":2018,"la":42.5,"v":-0.1},{"t":2019,"la":42.5,"v":-0.3},
{"t":1962,"la":40.5,"v":0.5},{"t":1963,"la":40.5,"v":0.5},{"t":1964,"la":40.5,"v":0.3},{"t":1965,"la":40.5,"v":0.1},{"t":1966,"la":40.5,"v":0.1},{"t":1967,"la":40.5,"v":-0.1},{"t":1968,"la":40.5,"v":0.1},{"t":1969,"la":40.5,"v":0.3},{"t":1970,"la":40.5,"v":0.1},{"t":1971,"la":40.5,"v":-0.3},{"t":1972,"la":40.5,"v":-0.5},{"t":1973,"la":40.5,"v":-1},{"t":1974,"la":40.5,"v":-0.7},{"t":1975,"la":40.5,"v":-1},{"t":1976,"la":40.5,"v":-0.7},{"t":1977,"la":40.5,"v":-1},{"t":1978,"la":40.5,"v":-0.7},{"t":1979,"la":40.5,"v":-0.5},{"t":1980,"la":40.5,"v":0.1},{"t":1981,"la":40.5,"v":-0.1},{"t":1982,"la":40.5,"v":-0.1},{"t":1983,"la":40.5,"v":-0.3},{"t":1984,"la":40.5,"v":-0.5},{"t":1985,"la":40.5,"v":-0.7},{"t":1986,"la":40.5,"v":-1},{"t":1987,"la":40.5,"v":-0.7},{"t":1988,"la":40.5,"v":-0.3},{"t":1989,"la":40.5,"v":-0.1},{"t":1990,"la":40.5,"v":-0.1},{"t":1991,"la":40.5,"v":0.1},{"t":1992,"la":40.5,"v":0.3},{"t":1993,"la":40.5,"v":0.3},{"t":1994,"la":40.5,"v":0.1},{"t":1995,"la":40.5,"v":0.1},{"t":1996,"la":40.5,"v":0.3},{"t":1997,"la":40.5,"v":0.5},{"t":1998,"la":40.5,"v":0.5},{"t":1999,"la":40.5,"v":0.7},{"t":2000,"la":40.5,"v":0.5},{"t":2001,"la":40.5,"v":0.1},{"t":2002,"la":40.5,"v":-0.1},{"t":2003,"la":40.5,"v":0.1},{"t":2004,"la":40.5,"v":0.7},{"t":2005,"la":40.5,"v":1.35},{"t":2006,"la":40.5,"v":1.35},{"t":2007,"la":40.5,"v":1},{"t":2008,"la":40.5,"v":0.5},{"t":2009,"la":40.5,"v":0.3},{"t":2010,"la":40.5,"v":0.1},{"t":2011,"la":40.5,"v":0.3},{"t":2012,"la":40.5,"v":0.1},{"t":2013,"la":40.5,"v":-0.3},{"t":2014,"la":40.5,"v":-0.5},{"t":2015,"la":40.5,"v":-0.5},{"t":2016,"la":40.5,"v":-0.1},{"t":2017,"la":40.5,"v":-0.3},{"t":2018,"la":40.5,"v":-0.5},{"t":2019,"la":40.5,"v":-0.3},
{"t":1962,"la":38.5,"v":0.5},{"t":1963,"la":38.5,"v":0.5},{"t":1964,"la":38.5,"v":0.3},{"t":1965,"la":38.5,"v":0.3},{"t":1966,"la":38.5,"v":0.5},{"t":1967,"la":38.5,"v":0.3},{"t":1968,"la":38.5,"v":0.3},{"t":1969,"la":38.5,"v":0.5},{"t":1970,"la":38.5,"v":0.1},{"t":1971,"la":38.5,"v":-0.1},{"t":1972,"la":38.5,"v":-0.5},{"t":1973,"la":38.5,"v":-0.7},{"t":1974,"la":38.5,"v":-0.7},{"t":1975,"la":38.5,"v":-1},{"t":1976,"la":38.5,"v":-1},{"t":1977,"la":38.5,"v":-1},{"t":1978,"la":38.5,"v":-1},{"t":1979,"la":38.5,"v":-0.5},{"t":1980,"la":38.5,"v":-0.3},{"t":1981,"la":38.5,"v":-0.1},{"t":1982,"la":38.5,"v":-0.1},{"t":1983,"la":38.5,"v":-0.3},{"t":1984,"la":38.5,"v":-0.5},{"t":1985,"la":38.5,"v":-0.7},{"t":1986,"la":38.5,"v":-1},{"t":1987,"la":38.5,"v":-0.7},{"t":1988,"la":38.5,"v":-0.3},{"t":1989,"la":38.5,"v":-0.1},{"t":1990,"la":38.5,"v":0.1},{"t":1991,"la":38.5,"v":0.1},{"t":1992,"la":38.5,"v":0.3},{"t":1993,"la":38.5,"v":0.3},{"t":1994,"la":38.5,"v":0.1},{"t":1995,"la":38.5,"v":-0.1},{"t":1996,"la":38.5,"v":0.1},{"t":1997,"la":38.5,"v":0.3},{"t":1998,"la":38.5,"v":0.5},{"t":1999,"la":38.5,"v":0.7},{"t":2000,"la":38.5,"v":0.7},{"t":2001,"la":38.5,"v":0.3},{"t":2002,"la":38.5,"v":0.1},{"t":2003,"la":38.5,"v":0.3},{"t":2004,"la":38.5,"v":0.7},{"t":2005,"la":38.5,"v":1.35},{"t":2006,"la":38.5,"v":1.35},{"t":2007,"la":38.5,"v":1},{"t":2008,"la":38.5,"v":0.5},{"t":2009,"la":38.5,"v":0.3},{"t":2010,"la":38.5,"v":0.1},{"t":2011,"la":38.5,"v":0.1},{"t":2012,"la":38.5,"v":0.1},{"t":2013,"la":38.5,"v":-0.3},{"t":2014,"la":38.5,"v":-0.5},{"t":2015,"la":38.5,"v":-0.5},{"t":2016,"la":38.5,"v":-0.3},{"t":2017,"la":38.5,"v":-0.3},{"t":2018,"la":38.5,"v":-0.5},{"t":2019,"la":38.5,"v":-0.5},
{"t":1962,"la":36.5,"v":0.5},{"t":1963,"la":36.5,"v":0.5},{"t":1964,"la":36.5,"v":0.3},{"t":1965,"la":36.5,"v":0.3},{"t":1966,"la":36.5,"v":0.5},{"t":1967,"la":36.5,"v":0.3},{"t":1968,"la":36.5,"v":0.3},{"t":1969,"la":36.5,"v":0.3},{"t":1970,"la":36.5,"v":0.1},{"t":1971,"la":36.5,"v":-0.3},{"t":1972,"la":36.5,"v":-0.5},{"t":1973,"la":36.5,"v":-0.7},{"t":1974,"la":36.5,"v":-1},{"t":1975,"la":36.5,"v":-1},{"t":1976,"la":36.5,"v":-1},{"t":1977,"la":36.5,"v":-1.35},{"t":1978,"la":36.5,"v":-1},{"t":1979,"la":36.5,"v":-0.7},{"t":1980,"la":36.5,"v":-0.5},{"t":1981,"la":36.5,"v":-0.3},{"t":1982,"la":36.5,"v":-0.1},{"t":1983,"la":36.5,"v":-0.3},{"t":1984,"la":36.5,"v":-0.5},{"t":1985,"la":36.5,"v":-0.7},{"t":1986,"la":36.5,"v":-1},{"t":1987,"la":36.5,"v":-0.7},{"t":1988,"la":36.5,"v":-0.3},{"t":1989,"la":36.5,"v":-0.1},{"t":1990,"la":36.5,"v":0.1},{"t":1991,"la":36.5,"v":0.1},{"t":1992,"la":36.5,"v":0.3},{"t":1993,"la":36.5,"v":0.5},{"t":1994,"la":36.5,"v":0.3},{"t":1995,"la":36.5,"v":-0.1},{"t":1996,"la":36.5,"v":0.1},{"t":1997,"la":36.5,"v":0.3},{"t":1998,"la":36.5,"v":0.5},{"t":1999,"la":36.5,"v":0.7},{"t":2000,"la":36.5,"v":0.7},{"t":2001,"la":36.5,"v":0.3},{"t":2002,"la":36.5,"v":0.1},{"t":2003,"la":36.5,"v":0.3},{"t":2004,"la":36.5,"v":0.7},{"t":2005,"la":36.5,"v":1.35},{"t":2006,"la":36.5,"v":1.35},{"t":2007,"la":36.5,"v":1},{"t":2008,"la":36.5,"v":0.7},{"t":2009,"la":36.5,"v":0.3},{"t":2010,"la":36.5,"v":0.1},{"t":2011,"la":36.5,"v":-0.1},{"t":2012,"la":36.5,"v":-0.1},{"t":2013,"la":36.5,"v":-0.3},{"t":2014,"la":36.5,"v":-0.5},{"t":2015,"la":36.5,"v":-0.3},{"t":2016,"la":36.5,"v":-0.1},{"t":2017,"la":36.5,"v":-0.3},{"t":2018,"la":36.5,"v":-0.5},{"t":2019,"la":36.5,"v":-0.3},
{"t":1962,"la":34.5,"v":0.3},{"t":1963,"la":34.5,"v":0.5},{"t":1964,"la":34.5,"v":0.5},{"t":1965,"la":34.5,"v":0.3},{"t":1966,"la":34.5,"v":0.5},{"t":1967,"la":34.5,"v":0.3},{"t":1968,"la":34.5,"v":0.3},{"t":1969,"la":34.5,"v":0.1},{"t":1970,"la":34.5,"v":0.1},{"t":1971,"la":34.5,"v":-0.3},{"t":1972,"la":34.5,"v":-0.7},{"t":1973,"la":34.5,"v":-1},{"t":1974,"la":34.5,"v":-1.35},{"t":1975,"la":34.5,"v":-1},{"t":1976,"la":34.5,"v":-1},{"t":1977,"la":34.5,"v":-1.35},{"t":1978,"la":34.5,"v":-1},{"t":1979,"la":34.5,"v":-0.7},{"t":1980,"la":34.5,"v":-0.5},{"t":1981,"la":34.5,"v":-0.3},{"t":1982,"la":34.5,"v":-0.3},{"t":1983,"la":34.5,"v":-0.3},{"t":1984,"la":34.5,"v":-0.5},{"t":1985,"la":34.5,"v":-0.7},{"t":1986,"la":34.5,"v":-0.7},{"t":1987,"la":34.5,"v":-0.5},{"t":1988,"la":34.5,"v":-0.3},{"t":1989,"la":34.5,"v":-0.1},{"t":1990,"la":34.5,"v":0.1},{"t":1991,"la":34.5,"v":0.1},{"t":1992,"la":34.5,"v":0.3},{"t":1993,"la":34.5,"v":0.5},{"t":1994,"la":34.5,"v":0.5},{"t":1995,"la":34.5,"v":0.1},{"t":1996,"la":34.5,"v":-0.3},{"t":1997,"la":34.5,"v":0.3},{"t":1998,"la":34.5,"v":0.5},{"t":1999,"la":34.5,"v":0.7},{"t":2000,"la":34.5,"v":0.7},{"t":2001,"la":34.5,"v":0.5},{"t":2002,"la":34.5,"v":0.1},{"t":2003,"la":34.5,"v":0.3},{"t":2004,"la":34.5,"v":1},{"t":2005,"la":34.5,"v":1.35},{"t":2006,"la":34.5,"v":1.35},{"t":2007,"la":34.5,"v":1.35},{"t":2008,"la":34.5,"v":0.7},{"t":2009,"la":34.5,"v":0.3},{"t":2010,"la":34.5,"v":0.1},{"t":2011,"la":34.5,"v":-0.1},{"t":2012,"la":34.5,"v":-0.1},{"t":2013,"la":34.5,"v":-0.3},{"t":2014,"la":34.5,"v":-0.3},{"t":2015,"la":34.5,"v":-0.3},{"t":2016,"la":34.5,"v":-0.1},{"t":2017,"la":34.5,"v":-0.1},{"t":2018,"la":34.5,"v":-0.3},{"t":2019,"la":34.5,"v":-0.3},
{"t":1962,"la":32.5,"v":0.1},{"t":1963,"la":32.5,"v":0.5},{"t":1964,"la":32.5,"v":0.5},{"t":1965,"la":32.5,"v":0.3},{"t":1966,"la":32.5,"v":0.3},{"t":1967,"la":32.5,"v":0.3},{"t":1968,"la":32.5,"v":0.1},{"t":1969,"la":32.5,"v":0.1},{"t":1970,"la":32.5,"v":0.1},{"t":1971,"la":32.5,"v":-0.3},{"t":1972,"la":32.5,"v":-0.7},{"t":1973,"la":32.5,"v":-1},{"t":1974,"la":32.5,"v":-1.35},{"t":1975,"la":32.5,"v":-1.35},{"t":1976,"la":32.5,"v":-1.35},{"t":1977,"la":32.5,"v":-1.35},{"t":1978,"la":32.5,"v":-1},{"t":1979,"la":32.5,"v":-0.7},{"t":1980,"la":32.5,"v":-0.5},{"t":1981,"la":32.5,"v":-0.3},{"t":1982,"la":32.5,"v":-0.3},{"t":1983,"la":32.5,"v":-0.3},{"t":1984,"la":32.5,"v":-0.5},{"t":1985,"la":32.5,"v":-0.7},{"t":1986,"la":32.5,"v":-0.7},{"t":1987,"la":32.5,"v":-0.5},{"t":1988,"la":32.5,"v":-0.3},{"t":1989,"la":32.5,"v":-0.1},{"t":1990,"la":32.5,"v":0.1},{"t":1991,"la":32.5,"v":0.1},{"t":1992,"la":32.5,"v":0.3},{"t":1993,"la":32.5,"v":0.5},{"t":1994,"la":32.5,"v":0.5},{"t":1995,"la":32.5,"v":0.1},{"t":1996,"la":32.5,"v":-0.3},{"t":1997,"la":32.5,"v":0.3},{"t":1998,"la":32.5,"v":0.5},{"t":1999,"la":32.5,"v":0.7},{"t":2000,"la":32.5,"v":0.7},{"t":2001,"la":32.5,"v":0.5},{"t":2002,"la":32.5,"v":0.1},{"t":2003,"la":32.5,"v":0.5},{"t":2004,"la":32.5,"v":1},{"t":2005,"la":32.5,"v":1.35},{"t":2006,"la":32.5,"v":1.35},{"t":2007,"la":32.5,"v":1.35},{"t":2008,"la":32.5,"v":0.7},{"t":2009,"la":32.5,"v":0.3},{"t":2010,"la":32.5,"v":0.1},{"t":2011,"la":32.5,"v":-0.1},{"t":2012,"la":32.5,"v":0.1},{"t":2013,"la":32.5,"v":-0.1},{"t":2014,"la":32.5,"v":-0.1},{"t":2015,"la":32.5,"v":-0.1},{"t":2016,"la":32.5,"v":-0.1},{"t":2017,"la":32.5,"v":0.1},{"t":2018,"la":32.5,"v":-0.1},{"t":2019,"la":32.5,"v":-0.1},
{"t":1962,"la":30.5,"v":0.1},{"t":1963,"la":30.5,"v":0.3},{"t":1964,"la":30.5,"v":0.5},{"t":1965,"la":30.5,"v":0.3},{"t":1966,"la":30.5,"v":0.3},{"t":1967,"la":30.5,"v":0.1},{"t":1968,"la":30.5,"v":0.1},{"t":1969,"la":30.5,"v":0.1},{"t":1970,"la":30.5,"v":-0.1},{"t":1971,"la":30.5,"v":-0.3},{"t":1972,"la":30.5,"v":-0.7},{"t":1973,"la":30.5,"v":-1},{"t":1974,"la":30.5,"v":-1.35},{"t":1975,"la":30.5,"v":-1.35},{"t":1976,"la":30.5,"v":-1.35},{"t":1977,"la":30.5,"v":-1.35},{"t":1978,"la":30.5,"v":-1.35},{"t":1979,"la":30.5,"v":-0.7},{"t":1980,"la":30.5,"v":-0.5},{"t":1981,"la":30.5,"v":-0.3},{"t":1982,"la":30.5,"v":-0.3},{"t":1983,"la":30.5,"v":-0.3},{"t":1984,"la":30.5,"v":-0.5},{"t":1985,"la":30.5,"v":-0.5},{"t":1986,"la":30.5,"v":-0.7},{"t":1987,"la":30.5,"v":-0.5},{"t":1988,"la":30.5,"v":-0.3},{"t":1989,"la":30.5,"v":-0.1},{"t":1990,"la":30.5,"v":0.1},{"t":1991,"la":30.5,"v":0.1},{"t":1992,"la":30.5,"v":0.3},{"t":1993,"la":30.5,"v":0.5},{"t":1994,"la":30.5,"v":0.5},{"t":1995,"la":30.5,"v":0.1},{"t":1996,"la":30.5,"v":-0.3},{"t":1997,"la":30.5,"v":0.3},{"t":1998,"la":30.5,"v":0.5},{"t":1999,"la":30.5,"v":0.5},{"t":2000,"la":30.5,"v":0.5},{"t":2001,"la":30.5,"v":0.3},{"t":2002,"la":30.5,"v":0.1},{"t":2003,"la":30.5,"v":0.5},{"t":2004,"la":30.5,"v":1},{"t":2005,"la":30.5,"v":1.35},{"t":2006,"la":30.5,"v":1.35},{"t":2007,"la":30.5,"v":1.35},{"t":2008,"la":30.5,"v":0.7},{"t":2009,"la":30.5,"v":0.3},{"t":2010,"la":30.5,"v":0.1},{"t":2011,"la":30.5,"v":-0.1},{"t":2012,"la":30.5,"v":0.1},{"t":2013,"la":30.5,"v":0.1},{"t":2014,"la":30.5,"v":-0.1},{"t":2015,"la":30.5,"v":-0.1},{"t":2016,"la":30.5,"v":0.1},{"t":2017,"la":30.5,"v":0.1},{"t":2018,"la":30.5,"v":0.1},{"t":2019,"la":30.5,"v":-0.1}
]
},
"vconcat":[
{
 "width":793,"height":398,
 "title":{"text":"(a) Long term mean MOC (Sv) 1960−2020"},
 "layer":[
  {"data":{"name":"moc"},"mark":{"type":"area","color":"#d3d3d3","clip":true},
   "encoding":{
    "x":{"field":"lat","type":"quantitative","title":" ","scale":{"domain":[36.5,67.5],"nice":false,"zero":false},"axis":{"values":[40,45,50,55,60,65],"labelExpr":"datum.value + 'N'","title":" ","titleFontSize":6,"titlePadding":2}},
    "y":{"field":"lo","type":"quantitative","title":null,"scale":{"domain":[0.94,21],"nice":false,"zero":false},"axis":{"values":[2,4,6,8,10,12,14,16,18,20]}},
    "y2":{"field":"hi"}}},
  {"data":{"name":"moc"},"mark":{"type":"line","color":"black","strokeWidth":2.5,"clip":true},
   "encoding":{"x":{"field":"lat","type":"quantitative","title":" "},"y":{"field":"m","type":"quantitative","title":null}}},
  {"data":{"name":"ann"},"mark":{"type":"text","align":"left","baseline":"middle","font":"Liberation Mono","fontSize":21,"color":"black"},
   "encoding":{"x":{"field":"x","type":"quantitative","title":" "},"y":{"field":"y","type":"quantitative","title":null},"text":{"field":"s"}}}
 ]
},
{
 "width":793,"height":396,
 "title":{"text":"(b) MOC anomalies (Sv)","offset":7},
 "data":{"name":"anom"},
 "transform":[
  {"bin":{"step":1,"extent":[1961.4,2019.4],"nice":false},"field":"t","as":["t0","t1"]},
  {"bin":{"step":2,"extent":[29.5,67.5],"nice":false},"field":"la","as":["a0","a1"]}
 ],
 "mark":{"type":"rect","clip":true,"strokeWidth":0.5},
 "encoding":{
  "x":{"field":"t0","type":"quantitative","title":null,"scale":{"domain":[1961.4,2019.3],"nice":false,"zero":false},"axis":{"values":[1965,1970,1975,1980,1985,1990,1995,2000,2005,2010,2015],"format":"d"}},
  "x2":{"field":"t1"},
  "y":{"field":"a0","type":"quantitative","title":null,"scale":{"domain":[29.5,67.5],"nice":false,"zero":false},"axis":{"values":[30,35,40,45,50,55,60,65],"labelExpr":"datum.value + 'N'"}},
  "y2":{"field":"a1"},
  "fill":{"field":"v","type":"quantitative","legend":null,"scale":{"type":"threshold","domain":[-2.5,-2,-1.5,-1.2,-0.8,-0.6,-0.4,-0.2,0,0.2,0.4,0.6,0.8,1.2,1.5,2,2.5],"range":["#03104f","#0b2377","#0c3293","#0c41b0","#1565c9","#206fe6","#3d97f2","#78b8f8","#e0ffff","#ffe5e5","#ffc5c5","#f6a0a0","#e68b8b","#e67070","#e55252","#cb3f3f","#b22a2a","#a41e1e"]}},
  "stroke":{"field":"v","type":"quantitative","legend":null,"scale":{"type":"threshold","domain":[-2.5,-2,-1.5,-1.2,-0.8,-0.6,-0.4,-0.2,0,0.2,0.4,0.6,0.8,1.2,1.5,2,2.5],"range":["#03104f","#0b2377","#0c3293","#0c41b0","#1565c9","#206fe6","#3d97f2","#78b8f8","#e0ffff","#ffe5e5","#ffc5c5","#f6a0a0","#e68b8b","#e67070","#e55252","#cb3f3f","#b22a2a","#a41e1e"]}}
 }
},
{
 "width":793,"height":25,
 "view":{"stroke":null},
 "layer":[
  {"data":{"name":"cbar"},
   "transform":[{"bin":{"step":1,"extent":[0,16],"nice":false},"field":"k","as":["k0","k1"]}],
   "mark":{"type":"rect","stroke":"black","strokeWidth":1.5},
   "encoding":{
    "x":{"field":"k0","type":"quantitative","title":null,"scale":{"domain":[-1.325,17.343],"nice":false,"zero":false},"axis":{"values":[0,2,4,6,8,10,12,14,16],"ticks":false,"labelFont":"Liberation Sans","labelFontWeight":"bold","labelFontSize":22,"labelPadding":2,"labelExpr":"['−2.5','−1.5','−0.8','−0.4','0','0.4','0.8','1.5','2.5'][round(datum.value/2)]"}},
    "x2":{"field":"k1"},
    "fill":{"field":"v","type":"quantitative","legend":null,"scale":{"type":"threshold","domain":[-2.5,-2,-1.5,-1.2,-0.8,-0.6,-0.4,-0.2,0,0.2,0.4,0.6,0.8,1.2,1.5,2,2.5],"range":["#03104f","#0b2377","#0c3293","#0c41b0","#1565c9","#206fe6","#3d97f2","#78b8f8","#e0ffff","#ffe5e5","#ffc5c5","#f6a0a0","#e68b8b","#e67070","#e55252","#cb3f3f","#b22a2a","#a41e1e"]}}}},
  {"data":{"name":"tri"},
   "mark":{"type":"point","filled":true,"stroke":"black","strokeWidth":1.5,"size":1806,"opacity":1},
   "encoding":{
    "x":{"field":"k","type":"quantitative","title":null},
    "fill":{"field":"v","type":"quantitative","legend":null,"scale":{"type":"threshold","domain":[-2.5,-2,-1.5,-1.2,-0.8,-0.6,-0.4,-0.2,0,0.2,0.4,0.6,0.8,1.2,1.5,2,2.5],"range":["#03104f","#0b2377","#0c3293","#0c41b0","#1565c9","#206fe6","#3d97f2","#78b8f8","#e0ffff","#ffe5e5","#ffc5c5","#f6a0a0","#e68b8b","#e67070","#e55252","#cb3f3f","#b22a2a","#a41e1e"]}},
    "shape":{"field":"side","type":"nominal","legend":null,"scale":{"domain":["L","R"],"range":["M1,-0.6L-1,0L1,0.6Z","M-1,-0.6L1,0L-1,0.6Z"]}}}}
 ]
}
]
}
